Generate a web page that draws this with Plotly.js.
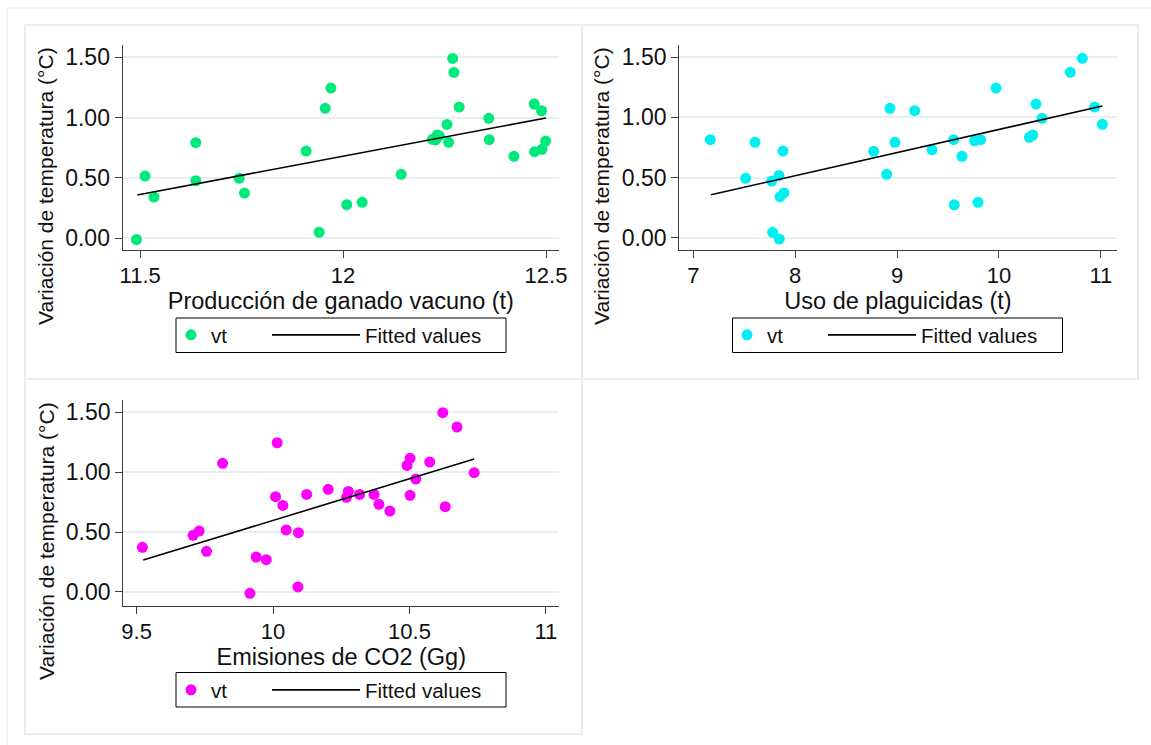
<!DOCTYPE html>
<html>
<head>
<meta charset="utf-8">
<script src="https://cdn.plot.ly/plotly-3.0.1.min.js"></script>
<style>
  html, body { margin: 0; padding: 0; background: #ffffff; }
  #chart { width: 1151px; height: 745px; }
</style>
</head>
<body>
<div id="chart"></div>
<script>
// ---------- Data ----------
const yTitle = "Variación de temperatura (°C)";

// Panel 1: Producción de ganado vacuno (t)
const ganadoX = [11.491, 11.512, 11.534, 11.637, 11.637, 11.744, 11.757, 11.909, 11.941, 11.956,
                 11.970, 12.009, 12.047, 12.143, 12.220, 12.228, 12.232, 12.237, 12.256, 12.260,
                 12.270, 12.273, 12.286, 12.359, 12.360, 12.421, 12.471, 12.472, 12.489, 12.490, 12.499];
const ganadoY = [-0.010, 0.516, 0.342, 0.792, 0.477, 0.497, 0.375, 0.723, 0.050, 1.077,
                 1.245, 0.279, 0.298, 0.530, 0.820, 0.815, 0.856, 0.848, 0.944, 0.795,
                 1.491, 1.375, 1.088, 0.994, 0.817, 0.679, 1.113, 0.718, 1.057, 0.737, 0.806];
const ganadoFitX = [11.493, 12.500];
const ganadoFitY = [0.359, 0.997];

// Panel 2: Uso de plaguicidas (t)
const plagX = [7.167, 7.514, 7.606, 7.769, 7.779, 7.841, 7.844, 7.851, 7.880, 7.890,
               8.770, 8.898, 8.930, 8.979, 9.173, 9.343, 9.555, 9.561, 9.637, 9.761,
               9.794, 9.820, 9.971, 10.298, 10.331, 10.363, 10.422, 10.700, 10.818, 10.939, 11.014];
const plagY = [0.815, 0.494, 0.793, 0.471, 0.045, 0.518, -0.011, 0.341, 0.721, 0.372,
               0.718, 0.527, 1.076, 0.793, 1.056, 0.731, 0.815, 0.274, 0.677, 0.806,
               0.294, 0.815, 1.244, 0.835, 0.854, 1.111, 0.993, 1.375, 1.491, 1.086, 0.943];
const plagFitX = [7.174, 11.014];
const plagFitY = [0.357, 1.095];

// Panel 3: Emisiones de CO2 (Gg)
const co2X = [9.521, 9.707, 9.729, 9.756, 9.815, 9.915, 9.938, 9.975, 10.009, 10.015,
              10.036, 10.048, 10.091, 10.093, 10.123, 10.202, 10.269, 10.276, 10.317, 10.370,
              10.388, 10.428, 10.491, 10.502, 10.502, 10.523, 10.574, 10.622, 10.631, 10.674, 10.737];
const co2Y = [0.373, 0.473, 0.509, 0.340, 1.074, -0.011, 0.292, 0.270, 0.796, 1.246,
              0.723, 0.518, 0.042, 0.495, 0.815, 0.857, 0.790, 0.840, 0.815, 0.815,
              0.732, 0.676, 1.057, 1.116, 0.807, 0.943, 1.085, 1.497, 0.712, 1.377, 0.996];
const co2FitX = [9.524, 10.737];
const co2FitY = [0.267, 1.110];

const xTitles = ["Producción de ganado vacuno (t)", "Uso de plaguicidas (t)", "Emisiones de CO2 (Gg)"];
const seriesNames = ["vt", "Fitted values"];
const yTickVals = [0, 0.5, 1, 1.5];
const yTickText = ["0.00", "0.50", "1.00", "1.50"];

// ---------- Styling ----------
const W = 1151, H = 745;
const FONT = "Liberation Sans, Arial, Helvetica, sans-serif";
const AX = "#3c3c3c";
const GRID = "#e8eff1";
const BORDER = "#e9eff0";
const TXT = "#111111";
const px = v => v / W;
const py = v => 1 - v / H;

function scatterTrace(x, y, color, ax, lg) {
  return { type: "scatter", mode: "markers", x: x, y: y, name: seriesNames[0],
    xaxis: "x" + ax, yaxis: "y" + ax, legend: lg,
    marker: { color: color, size: 11, line: { width: 0 } }, hoverinfo: "x+y" };
}
function fitTrace(x, y, ax, lg) {
  return { type: "scatter", mode: "lines", x: x, y: y, name: seriesNames[1],
    xaxis: "x" + ax, yaxis: "y" + ax, legend: lg,
    line: { color: "#000000", width: 1.6 }, hoverinfo: "x+y" };
}

const data = [
  scatterTrace(ganadoX, ganadoY, "#00e97c", "", "legend"),
  fitTrace(ganadoFitX, ganadoFitY, "", "legend2"),
  scatterTrace(plagX, plagY, "#00f0f2", "2", "legend3"),
  fitTrace(plagFitX, plagFitY, "2", "legend4"),
  scatterTrace(co2X, co2Y, "#ff00ff", "3", "legend5"),
  fitTrace(co2FitX, co2FitY, "3", "legend6")
];

function xAxis(domainX, range, dtick, tick0, title, anchor) {
  return {
    domain: domainX, range: range, dtick: dtick, tick0: tick0, anchor: anchor,
    showgrid: false, zeroline: false, showline: true, linecolor: AX, linewidth: 1.3,
    ticks: "outside", ticklen: 7, tickwidth: 1.3, tickcolor: AX, ticklabelstandoff: -2,
    tickfont: { family: FONT, size: 22, color: TXT },
    title: { text: title, font: { family: FONT, size: 23.5, color: TXT }, standoff: 0 },
    automargin: false, fixedrange: true
  };
}
function yAxis(domainY, range, anchor) {
  return {
    domain: domainY, range: range, anchor: anchor,
    tickvals: yTickVals, ticktext: yTickText,
    showgrid: true, gridcolor: GRID, gridwidth: 2, zeroline: false,
    showline: true, linecolor: AX, linewidth: 1.3,
    ticks: "outside", ticklen: 7, tickwidth: 1.3, tickcolor: AX,
    tickfont: { family: FONT, size: 23, color: TXT },
    automargin: false, fixedrange: true
  };
}
// Each legend box holds two entries; each entry gets its own legend so the
// marker entry and the (longer) line entry can have their own symbol widths.
function legendPart(leftPx, cy, itemwidth) {
  return {
    orientation: "h", x: px(leftPx), y: py(cy), xanchor: "left", yanchor: "middle",
    bgcolor: "rgba(0,0,0,0)", borderwidth: 0,
    font: { family: FONT, size: 20.5, color: TXT },
    itemwidth: itemwidth, itemclick: false, itemdoubleclick: false
  };
}
function legendFrame(x0, x1, y0, y1) {
  return { type: "rect", xref: "paper", yref: "paper", x0: px(x0), x1: px(x1), y0: py(y1), y1: py(y0),
    line: { color: "#000000", width: 1 }, fillcolor: "rgba(0,0,0,0)", layer: "above" };
}

const layout = {
  width: W, height: H,
  margin: { l: 0, r: 0, t: 0, b: 0 },
  paper_bgcolor: "#ffffff", plot_bgcolor: "#ffffff",
  showlegend: true,
  font: { family: FONT, color: TXT },
  xaxis:  xAxis([px(122.7), px(559)], [11.457, 12.532], 0.5, 11.5, xTitles[0], "y"),
  yaxis:  yAxis([py(250), py(45)], [-0.097, 1.602], "x"),
  xaxis2: xAxis([px(679.3), px(1116.7)], [6.863, 11.155], 1, 7, xTitles[1], "y2"),
  yaxis2: yAxis([py(250), py(45)], [-0.102, 1.602], "x2"),
  xaxis3: xAxis([px(123.3), px(559.3)], [9.451, 11.049], 0.5, 9.5, xTitles[2], "y3"),
  yaxis3: yAxis([py(606), py(400)], [-0.117, 1.603], "x3"),
  legend:  legendPart(171, 335, 30),
  legend2: legendPart(267, 335, 88),
  legend3: legendPart(727, 335, 30),
  legend4: legendPart(823, 335, 88),
  legend5: legendPart(171, 690, 30),
  legend6: legendPart(267, 690, 88),
  annotations: [
    { text: yTitle, xref: "paper", yref: "paper", x: px(46), y: py(186), textangle: -90,
      showarrow: false, xanchor: "center", yanchor: "middle", font: { family: FONT, size: 21, color: TXT } },
    { text: yTitle, xref: "paper", yref: "paper", x: px(602), y: py(186), textangle: -90,
      showarrow: false, xanchor: "center", yanchor: "middle", font: { family: FONT, size: 21, color: TXT } },
    { text: yTitle, xref: "paper", yref: "paper", x: px(46), y: py(541), textangle: -90,
      showarrow: false, xanchor: "center", yanchor: "middle", font: { family: FONT, size: 21, color: TXT } }
  ],
  shapes: [
    { type: "rect", xref: "paper", yref: "paper", x0: px(7), x1: px(1170), y0: py(770), y1: py(8),
      line: { color: "#eef1f1", width: 1.5 }, layer: "below" },
    { type: "rect", xref: "paper", yref: "paper", x0: px(25), x1: px(582), y0: py(379), y1: py(25),
      line: { color: BORDER, width: 2 }, layer: "below" },
    { type: "rect", xref: "paper", yref: "paper", x0: px(582), x1: px(1138), y0: py(379), y1: py(25),
      line: { color: BORDER, width: 2 }, layer: "below" },
    { type: "rect", xref: "paper", yref: "paper", x0: px(25), x1: px(582), y0: py(734), y1: py(379),
      line: { color: BORDER, width: 2 }, layer: "below" },
    legendFrame(176, 506, 318, 352.5),
    legendFrame(732.5, 1062.5, 318, 352.5),
    legendFrame(176, 506, 672.5, 707)
  ]
};

Plotly.newPlot("chart", data, layout, { displayModeBar: false, responsive: false });
</script>
</body>
</html>
